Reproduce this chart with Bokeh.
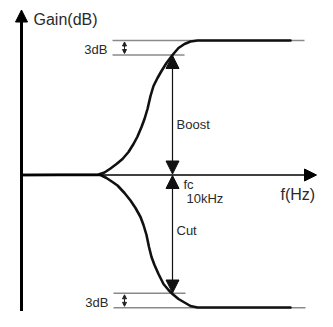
from bokeh.plotting import figure
from bokeh.models import Range1d, Arrow, NormalHead, ColumnDataSource
from bokeh.core.properties import value
from bokeh.embed import file_html
from bokeh.resources import INLINE

# ---- data (schematic units: x = frequency position, y = gain) ----
boost_x = [21, 98, 104, 110, 116, 122, 128, 133, 137, 141, 144, 147, 150, 153, 157, 161, 166, 172, 178, 184, 190, 197, 290]
boost_y = [0, 0.5, 2.5, 6.5, 11, 16, 23, 31, 38.5, 48, 56, 66, 79, 89, 97, 104, 112, 120, 127, 131, 133.5, 134.5, 134.5]

cut_x = [21, 100, 106, 112, 117, 124, 130, 135, 140, 143, 146, 148.5, 151, 154, 158, 163, 168, 172, 178, 184, 190, 197, 290]
cut_y = [0, 0, -3, -7, -10.5, -18, -25.5, -33, -42, -50, -60, -72, -82, -90, -99, -109, -115, -119, -124, -127.5, -131, -132.5, -132.5]

# reference (grey) level lines
ref_x0 = [112, 112, 113, 113]
ref_x1 = [304, 184, 185, 305]
ref_y = [134.5, 120, -118.3, -132.8]

# 3 dB markers
db3_x = [124, 124]
db3_top = [134.5, -118.3]
db3_bot = [120, -132.8]

# boost / cut arrows at fc
fc_x = 172
boost_top, boost_bot = 119.5, 1
cut_top, cut_bot = -0.5, -118

# axes
yaxis_x = 21
yaxis_bottom, yaxis_top = -150, 165
xaxis_right = 316

# labels
label_text = ["Gain(dB)", "3dB", "3dB", "Boost", "fc", "10kHz", "Cut", "f(Hz)"]
label_x = [33, 107, 108, 176, 183, 186, 176, 280]
label_y = [155.5, 125.5, -127.5, 50.5, -9.5, -23, -55.5, -19.5]
label_align = ["left", "right", "right", "left", "left", "left", "left", "left"]
label_size = ["16px", "13px", "13px", "13px", "13px", "13px", "13px", "16px"]

p = figure(width=317, height=311, output_backend="svg", toolbar_location=None,
           x_range=Range1d(0, 317), y_range=Range1d(-136.5, 174.5),
           x_axis_type=None, y_axis_type=None, min_border=0,
           outline_line_color=None)
p.grid.visible = False
p.background_fill_color = "white"
p.border_fill_color = "white"

# grey reference lines
p.segment(x0=ref_x0, x1=ref_x1, y0=ref_y, y1=ref_y, line_color="#8a8a8a", line_width=1.5)

# x axis
p.add_layout(Arrow(end=NormalHead(size=12, fill_color="black", line_color="black", line_width=1),
                   x_start=yaxis_x, y_start=0, x_end=xaxis_right, y_end=0,
                   line_color="black", line_width=1.5))
# y axis
p.add_layout(Arrow(end=NormalHead(size=12, fill_color="black", line_color="black", line_width=1),
                   x_start=yaxis_x, y_start=yaxis_bottom, x_end=yaxis_x, y_end=yaxis_top,
                   line_color="black", line_width=3))

# curves
p.line(boost_x, boost_y, line_color="#111111", line_width=2.6, line_join="round", line_cap="round")
p.line(cut_x, cut_y, line_color="#111111", line_width=2.6, line_join="round", line_cap="round")

# boost / cut double arrows
for y0, y1 in [(boost_bot, boost_top), (cut_top, cut_bot)]:
    p.add_layout(Arrow(start=NormalHead(size=13, fill_color="#111111", line_color="#111111", line_width=1),
                       end=NormalHead(size=13, fill_color="#111111", line_color="#111111", line_width=1),
                       x_start=fc_x, y_start=y0, x_end=fc_x, y_end=y1,
                       line_color="#111111", line_width=1.2))

# 3dB small double arrows
for i in range(2):
    p.add_layout(Arrow(start=NormalHead(size=4, fill_color="#222222", line_color="#222222", line_width=1),
                       end=NormalHead(size=4, fill_color="#222222", line_color="#222222", line_width=1),
                       x_start=db3_x[i], y_start=db3_bot[i] + 1.5, x_end=db3_x[i], y_end=db3_top[i] - 1.5,
                       line_color="#222222", line_width=1))

src = ColumnDataSource(dict(x=label_x, y=label_y, t=label_text, a=label_align, s=label_size))
p.text(x="x", y="y", text="t", text_align="a", text_font_size="s", source=src,
       text_baseline="middle", text_font=value("Liberation Sans"), text_color="#2a2a2a")

open("out.html", "w").write(file_html(p, INLINE))
